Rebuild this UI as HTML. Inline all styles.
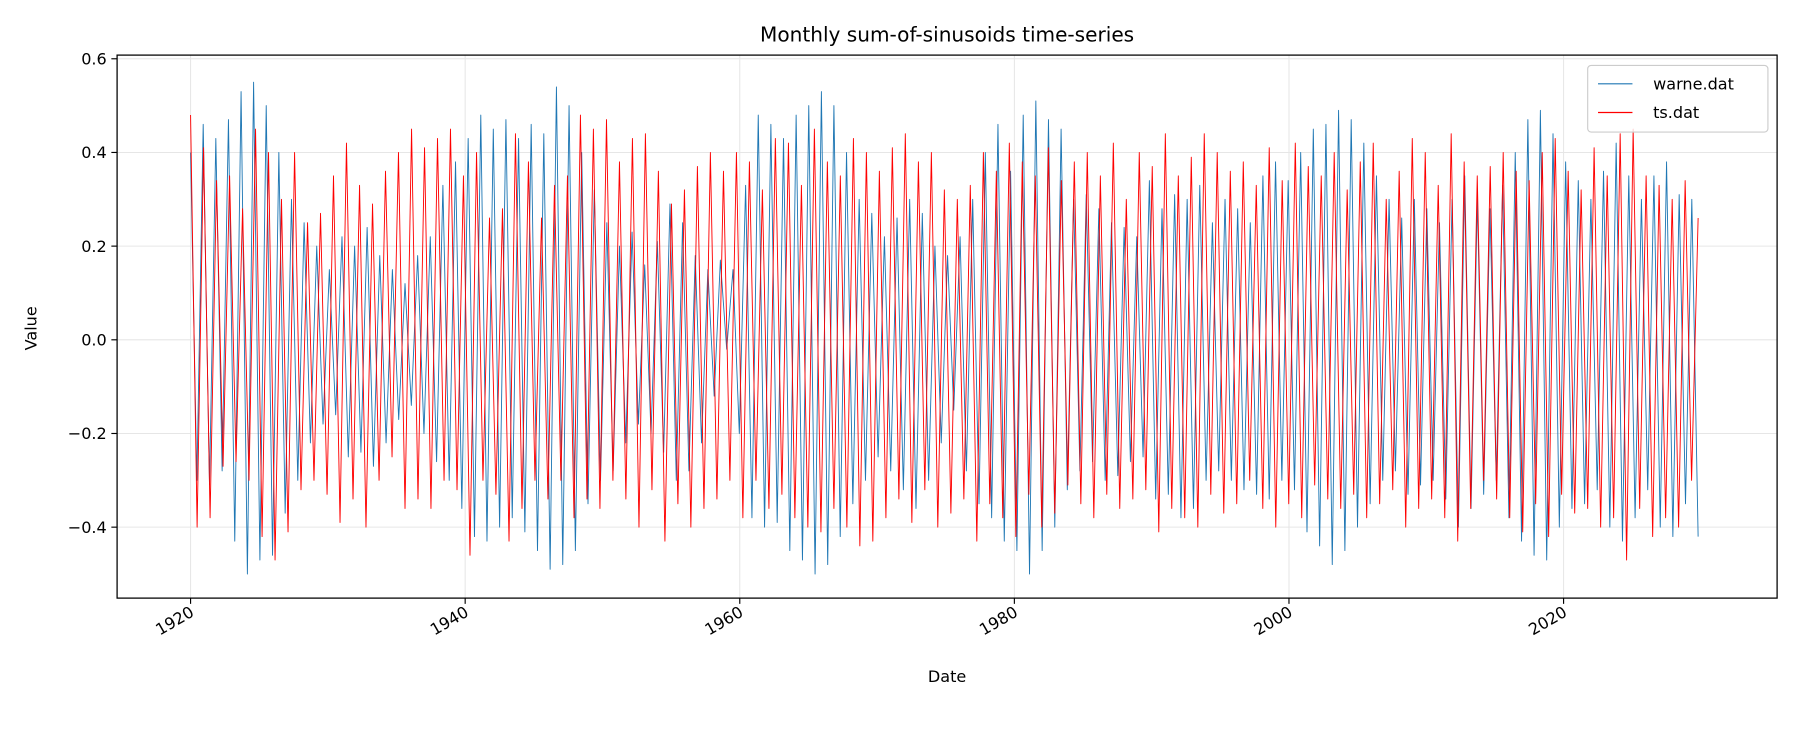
<!DOCTYPE html>
<html><head><meta charset="utf-8">
<style>
body{margin:0;background:#fff;font-family:"Liberation Sans","DejaVu Sans",sans-serif;}
svg text{font-family:"DejaVu Sans","Liberation Sans",sans-serif;}
</style></head>
<body>
<svg id="chart" width="1800" height="750" xmlns="http://www.w3.org/2000/svg">
<rect width="1800" height="750" fill="#fff"/>
<g transform="scale(1.148)">
<text x="825" y="36" font-size="17.5" text-anchor="middle">Monthly sum-of-sinusoids time-series</text>
<g id="grid"></g>
<g id="series"></g>
<rect x="102" y="48" width="1446" height="473" fill="none" stroke="#000" stroke-width="1.1"/>
<g id="yticks"></g>
<g id="xticks"></g>
<text x="825" y="594" font-size="14" text-anchor="middle">Date</text>
<text x="32" y="286" font-size="14" text-anchor="middle" transform="rotate(-90 32 286)">Value</text>
<g>
<rect x="1383" y="57" width="157" height="58" rx="3" fill="#fff" fill-opacity="0.8" stroke="#ccc"/>
<line x1="1392" y1="73" x2="1422" y2="73" stroke="#1f77b4" stroke-width="1"/>
<text x="1440" y="78" font-size="14">warne.dat</text>
<line x1="1392" y1="98" x2="1422" y2="98" stroke="#ff0000" stroke-width="1"/>
<text x="1440" y="103" font-size="14">ts.dat</text>
</g>
</g>
</svg>
<script>
const yTicks=[0.6,0.4,0.2,0.0,-0.2,-0.4];
const yTickLabels=["0.6","0.4","0.2","0.0","\u22120.2","\u22120.4"];
const xTicks=[1920,1940,1960,1980,2000,2020];
const startYear=1920, endYear=2029.8;
const warne=[0.40,-0.30,0.46,-0.31,0.43,-0.28,0.47,-0.43,0.53,-0.50,0.55,-0.47,0.50,-0.46,0.40,-0.37,0.30,-0.30,0.25,-0.22,0.20,-0.18,0.15,-0.16,0.22,-0.25,0.20,-0.24,0.24,-0.27,0.18,-0.22,0.15,-0.17,0.12,-0.14,0.18,-0.20,0.22,-0.26,0.33,-0.30,0.38,-0.36,0.43,-0.42,0.48,-0.43,0.45,-0.40,0.47,-0.38,0.43,-0.41,0.46,-0.45,0.44,-0.49,0.54,-0.48,0.50,-0.45,0.40,-0.35,0.32,-0.30,0.25,-0.28,0.20,-0.22,0.23,-0.18,0.16,-0.20,0.21,-0.24,0.29,-0.30,0.25,-0.28,0.18,-0.22,0.15,-0.12,0.17,-0.02,0.15,-0.20,0.33,-0.38,0.48,-0.40,0.46,-0.39,0.43,-0.45,0.48,-0.47,0.50,-0.50,0.53,-0.48,0.50,-0.42,0.40,-0.35,0.30,-0.30,0.27,-0.25,0.22,-0.28,0.26,-0.32,0.30,-0.36,0.27,-0.30,0.20,-0.22,0.18,-0.15,0.22,-0.28,0.30,-0.35,0.40,-0.38,0.46,-0.43,0.36,-0.45,0.48,-0.50,0.51,-0.45,0.47,-0.40,0.45,-0.32,0.30,-0.28,0.31,-0.26,0.28,-0.30,0.25,-0.29,0.24,-0.26,0.22,-0.25,0.34,-0.34,0.28,-0.33,0.31,-0.38,0.30,-0.36,0.33,-0.30,0.25,-0.28,0.30,-0.30,0.28,-0.32,0.25,-0.33,0.35,-0.34,0.38,-0.30,0.34,-0.32,0.40,-0.41,0.45,-0.44,0.46,-0.48,0.49,-0.45,0.47,-0.40,0.42,-0.35,0.35,-0.30,0.30,-0.28,0.26,-0.33,0.30,-0.31,0.28,-0.30,0.25,-0.34,0.30,-0.40,0.35,-0.36,0.30,-0.33,0.28,-0.30,0.33,-0.38,0.40,-0.43,0.47,-0.46,0.49,-0.47,0.44,-0.40,0.38,-0.36,0.34,-0.35,0.30,-0.32,0.36,-0.40,0.42,-0.43,0.35,-0.38,0.30,-0.32,0.35,-0.40,0.38,-0.42,0.31,-0.35,0.30,-0.42];
const ts=[0.48,-0.40,0.41,-0.38,0.34,-0.27,0.35,-0.26,0.28,-0.30,0.45,-0.42,0.40,-0.47,0.30,-0.41,0.40,-0.32,0.25,-0.30,0.27,-0.33,0.35,-0.39,0.42,-0.34,0.33,-0.40,0.29,-0.30,0.36,-0.25,0.40,-0.36,0.45,-0.34,0.41,-0.36,0.43,-0.30,0.45,-0.32,0.35,-0.46,0.40,-0.30,0.26,-0.33,0.28,-0.43,0.44,-0.36,0.38,-0.30,0.26,-0.34,0.33,-0.30,0.35,-0.38,0.48,-0.34,0.45,-0.36,0.47,-0.30,0.38,-0.34,0.43,-0.40,0.44,-0.32,0.36,-0.43,0.29,-0.35,0.32,-0.40,0.37,-0.36,0.40,-0.34,0.36,-0.30,0.40,-0.38,0.38,-0.30,0.32,-0.36,0.43,-0.33,0.42,-0.38,0.33,-0.40,0.45,-0.41,0.38,-0.36,0.35,-0.40,0.43,-0.44,0.40,-0.43,0.36,-0.38,0.41,-0.34,0.44,-0.39,0.38,-0.32,0.40,-0.40,0.32,-0.37,0.30,-0.34,0.33,-0.43,0.40,-0.35,0.36,-0.38,0.42,-0.42,0.38,-0.33,0.35,-0.40,0.41,-0.37,0.34,-0.31,0.38,-0.35,0.40,-0.38,0.35,-0.33,0.42,-0.36,0.30,-0.34,0.40,-0.32,0.37,-0.41,0.44,-0.36,0.35,-0.38,0.39,-0.40,0.44,-0.33,0.40,-0.37,0.36,-0.35,0.38,-0.30,0.33,-0.36,0.41,-0.40,0.34,-0.35,0.42,-0.38,0.37,-0.31,0.35,-0.34,0.40,-0.36,0.32,-0.33,0.38,-0.38,0.42,-0.35,0.30,-0.32,0.36,-0.40,0.43,-0.36,0.40,-0.34,0.33,-0.38,0.44,-0.43,0.38,-0.36,0.35,-0.30,0.37,-0.34,0.40,-0.38,0.36,-0.41,0.34,-0.35,0.40,-0.42,0.43,-0.33,0.36,-0.37,0.32,-0.36,0.41,-0.40,0.35,-0.38,0.44,-0.47,0.45,-0.36,0.35,-0.42,0.33,-0.38,0.30,-0.40,0.34,-0.30,0.26];
const X0=166, PXY=11.96, Y0=296, PXV=408;
const xs=t=>X0+(t-1920)*PXY;
const ys=v=>Y0-v*PXV;
const NS="http://www.w3.org/2000/svg";
const grid=document.getElementById('grid'),yt=document.getElementById('yticks'),xt=document.getElementById('xticks'),ser=document.getElementById('series');
function mk(tag,attrs,parent){const e=document.createElementNS(NS,tag);for(const k in attrs)e.setAttribute(k,attrs[k]);parent.appendChild(e);return e;}
yTicks.forEach((v,i)=>{const y=ys(v);
 const g=mk('line',{x1:102,x2:1548,y1:y,y2:y,stroke:'#e6e6e6','stroke-width':0.9},grid);
 
 
 mk('line',{x1:97,x2:102,y1:y,y2:y,stroke:'#000','stroke-width':1},yt);
 const t=mk('text',{x:93,y:y+5,'font-size':14,'text-anchor':'end'},yt);t.textContent=yTickLabels[i];
 
 
});
xTicks.forEach(yr=>{const x=xs(yr);
 const g=mk('line',{x1:x,x2:x,y1:48,y2:521,stroke:'#e6e6e6','stroke-width':0.9},grid);
 
 
 mk('line',{x1:x,x2:x,y1:521,y2:526,stroke:'#000','stroke-width':1},xt);
 const t=mk('text',{x:x+4,y:536,'font-size':14,'text-anchor':'end',transform:`rotate(-30 ${x+4} 536)`},xt);t.textContent=String(yr);
 
 
});
function draw(arr,color,name){const dt=(endYear-startYear)/(arr.length-1);
 const pts=arr.map((v,i)=>xs(startYear+i*dt).toFixed(1)+','+ys(v).toFixed(1)).join(' ');
 const p=mk('polyline',{points:pts,fill:'none',stroke:color,'stroke-width':0.8,'stroke-linejoin':'round'},ser);
 
 
}
draw(warne,'#1f77b4','warne-line');
draw(ts,'#ff0000','ts-line');
</script>
</body></html>
